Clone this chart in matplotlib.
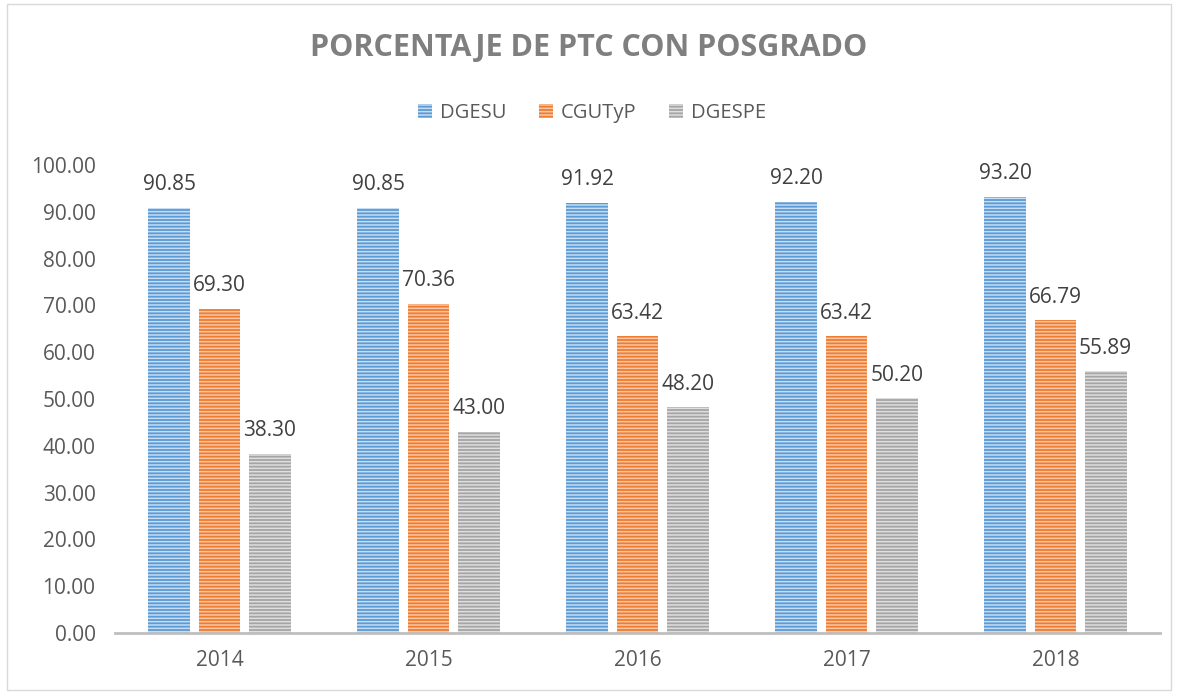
import matplotlib
matplotlib.use("Agg")
import matplotlib.pyplot as plt
import numpy as np
from matplotlib.patches import Rectangle

anios = ["2014", "2015", "2016", "2017", "2018"]
dgesu = [90.85, 90.85, 91.92, 92.20, 93.20]
cgutyp = [69.30, 70.36, 63.42, 63.42, 66.79]
dgespe = [38.30, 43.00, 48.20, 50.20, 55.89]
series = ["DGESU", "CGUTyP", "DGESPE"]

colores = ["#5B9BD5", "#ED7D31", "#A5A5A5"]
rayas = ["#C5DCF2", "#F8C6A4", "#DEDEDE"]

plt.rcParams["font.family"] = ["Open Sans", "DejaVu Sans"]
plt.rcParams["hatch.linewidth"] = 1.1

fig = plt.figure(figsize=(11.78, 6.94), dpi=100)
ax = fig.add_axes([115 / 1178, 61 / 694, 1045 / 1178, 468 / 694])

x = np.arange(len(anios))
ancho = 0.2
paso = 0.24
valores = [dgesu, cgutyp, dgespe]

for i, datos in enumerate(valores):
    pos = x + (i - 1) * paso
    barras = ax.bar(pos, datos, ancho, color=colores[i], edgecolor=rayas[i],
                    linewidth=0, hatch="-----", label=series[i])
    for b, v in zip(barras, datos):
        ax.annotate(f"{v:.2f}", (b.get_x() + b.get_width() / 2, v),
                    xytext=(0, 9), textcoords="offset points",
                    ha="center", va="bottom", fontsize=15, color="#404040")

ax.set_xlim(-0.5, len(anios) - 0.5)
ax.set_ylim(0, 100)
ax.set_yticks(np.arange(0, 101, 10))
ax.set_yticklabels([f"{t:.2f}" for t in np.arange(0, 101, 10)])
ax.set_xticks(x)
ax.set_xticklabels(anios)
ax.tick_params(axis="both", length=0, labelsize=15, colors="#595959")
ax.tick_params(axis="x", pad=12)
ax.tick_params(axis="y", pad=14)

for lado in ["top", "right", "left"]:
    ax.spines[lado].set_visible(False)
ax.spines["bottom"].set_color("#BFBFBF")
ax.spines["bottom"].set_linewidth(2)

fig.text(0.5, 1 - 48 / 694, "PORCENTAJE DE PTC CON POSGRADO", ha="center",
         va="center", fontsize=22, fontweight="bold", color="#7F7F7F")

fig.legend(loc="center", bbox_to_anchor=(592 / 1178, 1 - 113 / 694), ncol=3,
           frameon=False, fontsize=14.5, labelcolor="#595959", handlelength=0.7,
           handleheight=0.7, handletextpad=0.4, columnspacing=1.6)

fig.patches.append(Rectangle((7 / 1178, 4 / 694), 1164 / 1178, 686 / 694,
                             transform=fig.transFigure, fill=False,
                             edgecolor="#D9D9D9", linewidth=1))

fig.savefig("out.png", dpi=100)
